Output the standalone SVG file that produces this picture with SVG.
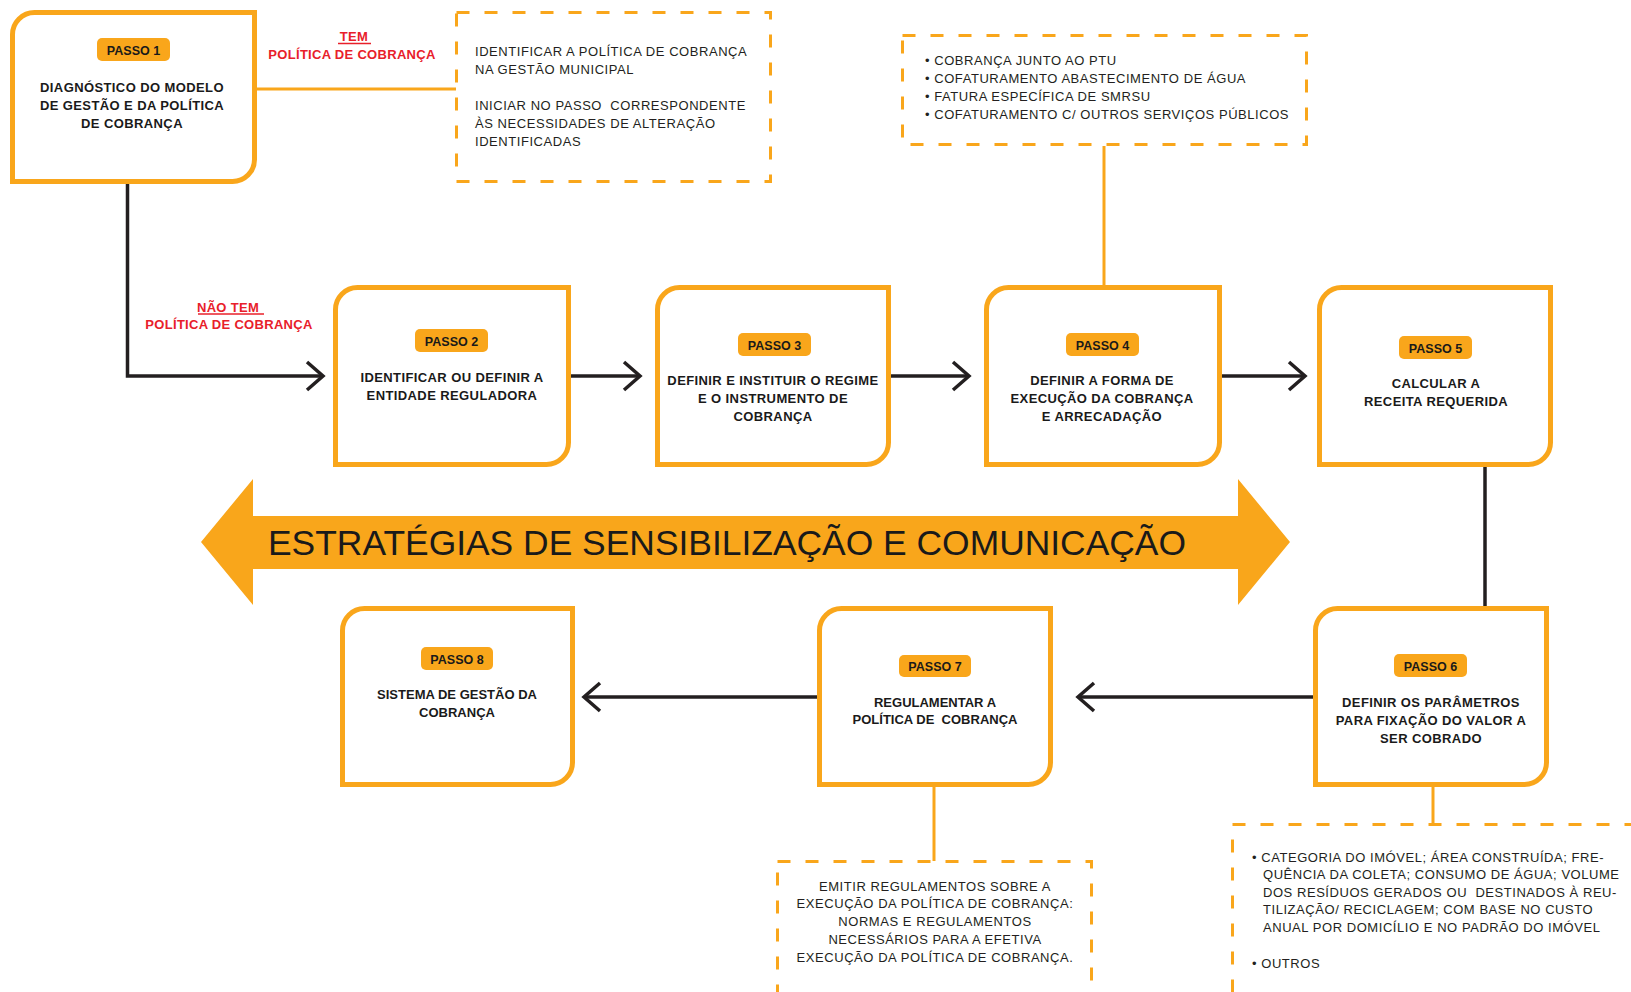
<svg xmlns="http://www.w3.org/2000/svg" width="1631" height="992" viewBox="0 0 1631 992">
<defs>
<style>
.box{fill:#fff;stroke:#f9a61b;stroke-width:5}
.badge{fill:#f9a61b}
.bt{font-family:"Liberation Sans",Arial,sans-serif;font-weight:bold;font-size:12.5px;fill:#1a1a1a;text-anchor:middle}
.nt{font-family:"Liberation Sans",Arial,sans-serif;font-weight:bold;font-size:13px;letter-spacing:0.4px;fill:#1a1a1a;text-anchor:middle}
.nc{font-family:"Liberation Sans",Arial,sans-serif;font-weight:bold;font-size:13px;fill:#1a1a1a;text-anchor:middle}
.dash{fill:none;stroke:#f9a61b;stroke-width:3;stroke-dasharray:13 15}
.dt{font-family:"Liberation Sans",Arial,sans-serif;font-size:13px;letter-spacing:0.55px;fill:#231f20}
.red{font-family:"Liberation Sans",Arial,sans-serif;font-weight:bold;font-size:13px;letter-spacing:0.3px;fill:#e8202a;text-anchor:middle}
.dk{fill:none;stroke:#231f20;stroke-width:3.5}
.or{fill:none;stroke:#f9a61b;stroke-width:3}
</style>
<marker id="chev" markerUnits="userSpaceOnUse" viewBox="-20 -18 24 36" refX="0" refY="0" markerWidth="24" markerHeight="36" orient="auto">
<path d="M-16,-14 L0,0 L-16,14" fill="none" stroke="#231f20" stroke-width="3.5"/>
</marker>
</defs>
<rect width="1631" height="992" fill="#fff"/>

<g id="connectors">
<polyline class="dk" points="127.5,184 127.5,376 323,376" marker-end="url(#chev)"/>
<line class="dk" x1="571" y1="376" x2="640" y2="376" marker-end="url(#chev)"/>
<line class="dk" x1="891" y1="376" x2="969" y2="376" marker-end="url(#chev)"/>
<line class="dk" x1="1222" y1="376" x2="1305" y2="376" marker-end="url(#chev)"/>
<line class="dk" x1="1485" y1="467" x2="1485" y2="606"/>
<line class="dk" x1="1313" y1="697" x2="1078" y2="697" marker-end="url(#chev)"/>
<line class="dk" x1="817" y1="697" x2="584" y2="697" marker-end="url(#chev)"/>
<line class="or" x1="257" y1="89" x2="456" y2="89"/>
<line class="or" x1="1104" y1="146" x2="1104" y2="285"/>
<line class="or" x1="934" y1="787" x2="934" y2="861"/>
<line class="or" x1="1433" y1="787" x2="1433" y2="824"/>
</g>

<g id="label-tem">
<text class="red" x="354" y="41">TEM</text>
<line x1="338" y1="43.5" x2="371" y2="43.5" stroke="#e8202a" stroke-width="1.3"/>
<text class="red" x="352" y="59">POLÍTICA DE COBRANÇA</text>
</g>
<g id="label-nao-tem">
<text class="red" x="228" y="312">NÃO TEM</text>
<line x1="198" y1="314" x2="264" y2="314" stroke="#e8202a" stroke-width="1.3"/>
<text class="red" x="229" y="329">POLÍTICA DE COBRANÇA</text>
</g>

<g id="passo1">
<path class="box" d="M12.5,34.5 A22,22 0 0 1 34.5,12.5 H254.5 V159.5 A22,22 0 0 1 232.5,181.5 H12.5 Z"/>
<rect class="badge" x="97" y="38" width="73" height="23" rx="5"/>
<text class="bt" x="133.5" y="54.5">PASSO 1</text>
<text class="nt" x="132" y="92">DIAGNÓSTICO DO MODELO</text>
<text class="nt" x="132" y="110">DE GESTÃO E DA POLÍTICA</text>
<text class="nt" x="132" y="128">DE COBRANÇA</text>
</g>

<g id="passo2">
<path class="box" d="M335.5,309.5 A22,22 0 0 1 357.5,287.5 H568.5 V442.5 A22,22 0 0 1 546.5,464.5 H335.5 Z"/>
<rect class="badge" x="415" y="329" width="73" height="23" rx="5"/>
<text class="bt" x="451.5" y="345.5">PASSO 2</text>
<text class="nt" x="452" y="382">IDENTIFICAR OU DEFINIR A</text>
<text class="nt" x="452" y="400">ENTIDADE REGULADORA</text>
</g>

<g id="passo3">
<path class="box" d="M657.5,309.5 A22,22 0 0 1 679.5,287.5 H888.5 V442.5 A22,22 0 0 1 866.5,464.5 H657.5 Z"/>
<rect class="badge" x="738" y="333" width="73" height="23" rx="5"/>
<text class="bt" x="774.5" y="349.5">PASSO 3</text>
<text class="nt" x="773" y="385">DEFINIR E INSTITUIR O REGIME</text>
<text class="nt" x="773" y="403">E O INSTRUMENTO DE</text>
<text class="nt" x="773" y="421">COBRANÇA</text>
</g>

<g id="passo4">
<path class="box" d="M986.5,309.5 A22,22 0 0 1 1008.5,287.5 H1219.5 V442.5 A22,22 0 0 1 1197.5,464.5 H986.5 Z"/>
<rect class="badge" x="1066" y="333" width="73" height="23" rx="5"/>
<text class="bt" x="1102.5" y="349.5">PASSO 4</text>
<text class="nt" x="1102" y="385">DEFINIR A FORMA DE</text>
<text class="nt" x="1102" y="403">EXECUÇÃO DA COBRANÇA</text>
<text class="nt" x="1102" y="421">E ARRECADAÇÃO</text>
</g>

<g id="passo5">
<path class="box" d="M1319.5,309.5 A22,22 0 0 1 1341.5,287.5 H1550.5 V442.5 A22,22 0 0 1 1528.5,464.5 H1319.5 Z"/>
<rect class="badge" x="1399" y="336" width="73" height="23" rx="5"/>
<text class="bt" x="1435.5" y="352.5">PASSO 5</text>
<text class="nt" x="1436" y="388">CALCULAR A</text>
<text class="nt" x="1436" y="406">RECEITA REQUERIDA</text>
</g>

<g id="passo6">
<path class="box" d="M1315.5,630.5 A22,22 0 0 1 1337.5,608.5 H1546.5 V762.5 A22,22 0 0 1 1524.5,784.5 H1315.5 Z"/>
<rect class="badge" x="1394" y="654" width="73" height="23" rx="5"/>
<text class="bt" x="1430.5" y="670.5">PASSO 6</text>
<text class="nt" x="1431" y="707">DEFINIR OS PARÂMETROS</text>
<text class="nt" x="1431" y="725">PARA FIXAÇÃO DO VALOR A</text>
<text class="nt" x="1431" y="743">SER COBRADO</text>
</g>

<g id="passo7">
<path class="box" d="M819.5,630.5 A22,22 0 0 1 841.5,608.5 H1050.5 V762.5 A22,22 0 0 1 1028.5,784.5 H819.5 Z"/>
<rect class="badge" x="899" y="655" width="72" height="22" rx="5"/>
<text class="bt" x="935" y="671">PASSO 7</text>
<text class="nc" x="935" y="707">REGULAMENTAR A</text>
<text class="nc" x="935" y="724" xml:space="preserve">POLÍTICA DE  COBRANÇA</text>
</g>

<g id="passo8">
<path class="box" d="M342.5,630.5 A22,22 0 0 1 364.5,608.5 H572.5 V762.5 A22,22 0 0 1 550.5,784.5 H342.5 Z"/>
<rect class="badge" x="421" y="647" width="72" height="23" rx="5"/>
<text class="bt" x="457" y="663.5">PASSO 8</text>
<text class="nc" x="457" y="699">SISTEMA DE GESTÃO DA</text>
<text class="nc" x="457" y="717">COBRANÇA</text>
</g>

<g id="nota-politica">
<rect class="dash" x="456.5" y="12.5" width="314" height="169"/>
<text class="dt" x="475" y="56">IDENTIFICAR A POLÍTICA DE COBRANÇA</text>
<text class="dt" x="475" y="74">NA GESTÃO MUNICIPAL</text>
<text class="dt" x="475" y="110" xml:space="preserve">INICIAR NO PASSO  CORRESPONDENTE</text>
<text class="dt" x="475" y="128">ÀS NECESSIDADES DE ALTERAÇÃO</text>
<text class="dt" x="475" y="146">IDENTIFICADAS</text>
</g>

<g id="nota-arrecadacao">
<rect class="dash" x="902.5" y="35.5" width="404" height="109"/>
<text class="dt" x="925" y="65">• COBRANÇA JUNTO AO PTU</text>
<text class="dt" x="925" y="83">• COFATURAMENTO ABASTECIMENTO DE ÁGUA</text>
<text class="dt" x="925" y="101">• FATURA ESPECÍFICA DE SMRSU</text>
<text class="dt" x="925" y="119">• COFATURAMENTO C/ OUTROS SERVIÇOS PÚBLICOS</text>
</g>

<g id="nota-regulamentos">
<rect class="dash" x="777.5" y="861.5" width="314" height="160"/>
<text class="dt" x="935" y="891" text-anchor="middle">EMITIR REGULAMENTOS SOBRE A</text>
<text class="dt" x="935" y="908" text-anchor="middle">EXECUÇÃO DA POLÍTICA DE COBRANÇA:</text>
<text class="dt" x="935" y="926" text-anchor="middle">NORMAS E REGULAMENTOS</text>
<text class="dt" x="935" y="944" text-anchor="middle">NECESSÁRIOS PARA A EFETIVA</text>
<text class="dt" x="935" y="962" text-anchor="middle">EXECUÇÃO DA POLÍTICA DE COBRANÇA.</text>
</g>

<g id="nota-parametros">
<rect class="dash" x="1232.5" y="824.5" width="480" height="220"/>
<text class="dt" x="1252" y="862">• CATEGORIA DO IMÓVEL; ÁREA CONSTRUÍDA; FRE-</text>
<text class="dt" x="1263" y="879">QUÊNCIA DA COLETA; CONSUMO DE ÁGUA; VOLUME</text>
<text class="dt" x="1263" y="897" xml:space="preserve">DOS RESÍDUOS GERADOS OU  DESTINADOS À REU-</text>
<text class="dt" x="1263" y="914">TILIZAÇÃO/ RECICLAGEM; COM BASE NO CUSTO</text>
<text class="dt" x="1263" y="932">ANUAL POR DOMICÍLIO E NO PADRÃO DO IMÓVEL</text>
<text class="dt" x="1252" y="968">• OUTROS</text>
</g>

<g id="estrategias">
<polygon fill="#f9a61b" points="201,542 253,479 253,516 1238,516 1238,479 1290,542 1238,605 1238,569 253,569 253,605"/>
<text x="268" y="555" font-family="Liberation Sans, Arial, sans-serif" font-size="35" fill="#1a1a1a" textLength="918" lengthAdjust="spacingAndGlyphs">ESTRATÉGIAS DE SENSIBILIZAÇÃO E COMUNICAÇÃO</text>
</g>
</svg>
